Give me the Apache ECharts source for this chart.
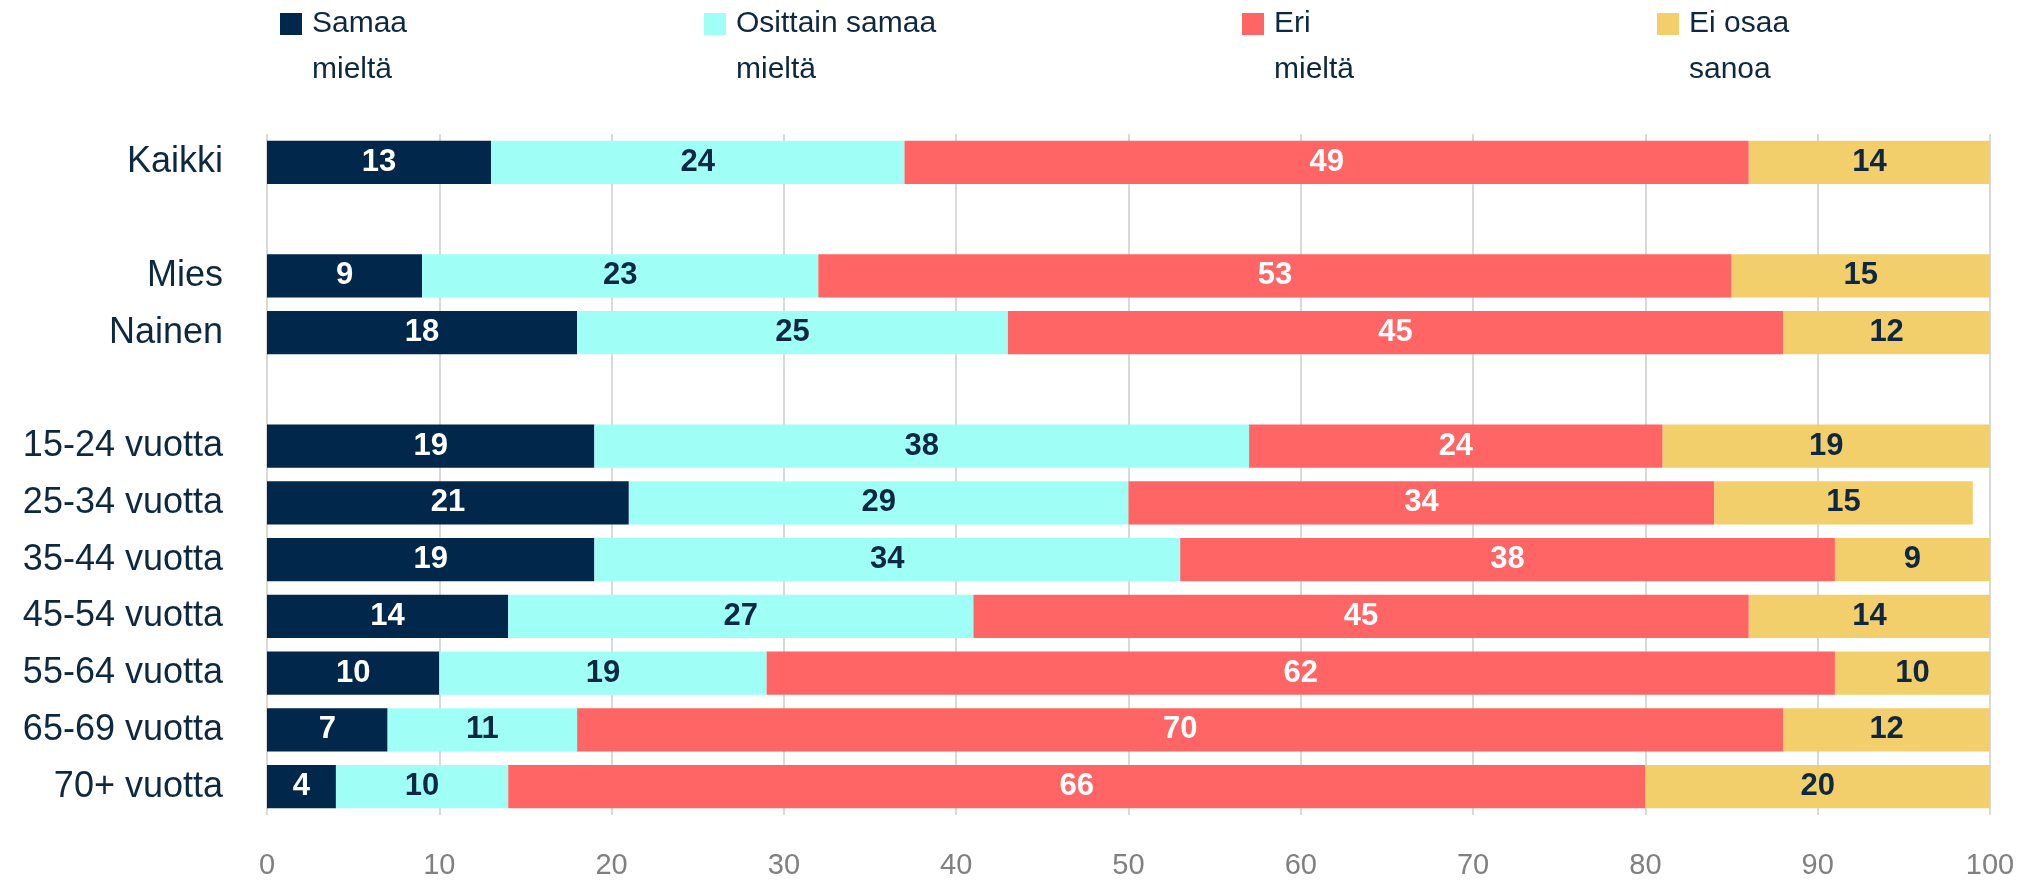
<!DOCTYPE html>
<html>
<head>
<meta charset="utf-8">
<script src="https://cdn.jsdelivr.net/npm/echarts@6/dist/echarts.min.js"></script>
<style>
  html, body { margin: 0; padding: 0; background: #ffffff; }
  #chart { width: 2034px; height: 881px; }
</style>
</head>
<body>
<div id="chart"></div>
<script>
// Row labels, top to bottom; the blank rows separate the groups
const categories = ['Kaikki', ' ', 'Mies', 'Nainen', '  ',
  '15-24 vuotta', '25-34 vuotta', '35-44 vuotta', '45-54 vuotta',
  '55-64 vuotta', '65-69 vuotta', '70+ vuotta'];

// Shares (%) per answer option
const samaaMielta    = [13, '-', 9, 18, '-', 19, 21, 19, 14, 10, 7, 4];
const osittainSamaa  = [24, '-', 23, 25, '-', 38, 29, 34, 27, 19, 11, 10];
const eriMielta      = [49, '-', 53, 45, '-', 24, 34, 38, 45, 62, 70, 66];
const eiOsaaSanoa    = [14, '-', 15, 12, '-', 19, 15, 9, 14, 10, 12, 20];

const seriesNames = ['Samaa mieltä', 'Osittain samaa mieltä', 'Eri mieltä', 'Ei osaa sanoa'];
// Legend entries wrap onto two lines; the leading empty line keeps the
// first text line level with the colour square
const legendText = {
  'Samaa mieltä': '\nSamaa\nmieltä',
  'Osittain samaa mieltä': '\nOsittain samaa\nmieltä',
  'Eri mieltä': '\nEri\nmieltä',
  'Ei osaa sanoa': '\nEi osaa\nsanoa'
};

const NAVY = '#0E2841';
const colors = ['#01274A', '#9FFFF6', '#FF6565', '#F2CF6A'];
const labelColors = ['#ffffff', NAVY, '#ffffff', NAVY];
const seriesData = [samaaMielta, osittainSamaa, eriMielta, eiOsaaSanoa];
const legendLeft = [280, 704, 1242, 1657];

const chart = echarts.init(document.getElementById('chart'), null, { renderer: 'canvas' });

const option = {
  animation: false,
  color: colors,
  legend: seriesNames.map((name, i) => ({
    data: [name],
    left: legendLeft[i],
    top: -45,
    padding: 0,
    orient: 'horizontal',
    selectedMode: false,
    itemWidth: 22,
    itemHeight: 22,
    icon: 'rect',
    formatter: n => legendText[n],
    textStyle: {
      fontFamily: 'Liberation Sans, Arial, sans-serif',
      fontSize: 30,
      lineHeight: 46,
      color: NAVY,
      padding: [0, 0, 0, 5]
    }
  })),
  grid: {
    left: 267,
    right: 44,
    top: 134,
    height: 681,
    containLabel: false
  },
  xAxis: {
    type: 'value',
    min: 0,
    max: 100,
    interval: 10,
    axisLine: { show: false },
    axisTick: { show: false },
    axisLabel: {
      margin: 36,
      fontFamily: 'Liberation Sans, Arial, sans-serif',
      fontSize: 29,
      color: '#808080'
    },
    splitLine: { lineStyle: { color: '#D9D9D9', width: 2 } }
  },
  yAxis: {
    type: 'category',
    data: categories,
    inverse: true,
    axisLine: { show: false },
    axisTick: { show: false },
    axisLabel: {
      margin: 44,
      fontFamily: 'Liberation Sans, Arial, sans-serif',
      fontSize: 36,
      color: NAVY
    }
  },
  series: seriesNames.map((name, i) => ({
    name: name,
    type: 'bar',
    stack: 'total',
    barCategoryGap: '24%',
    data: seriesData[i],
    itemStyle: { color: colors[i] },
    label: {
      show: true,
      position: 'inside',
      fontFamily: 'Liberation Sans, Arial, sans-serif',
      fontSize: 31,
      fontWeight: 'bold',
      color: labelColors[i],
      formatter: p => p.value
    }
  }))
};

chart.setOption(option);
</script>
</body>
</html>
